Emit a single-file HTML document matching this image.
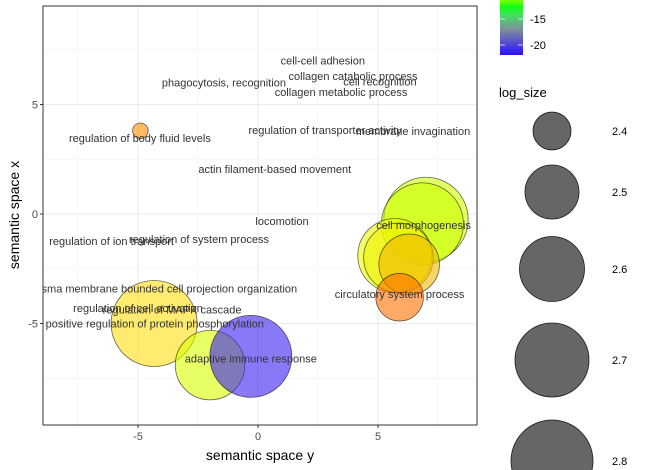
<!DOCTYPE html>
<html><head><meta charset="utf-8"><style>
html,body{margin:0;background:#fff;width:645px;height:470px;overflow:hidden;}
svg{display:block;font-family:"Liberation Sans",sans-serif;}
</style></head><body>
<svg id="chart" width="645" height="470">
<defs><linearGradient id="cb" x1="0" y1="1" x2="0" y2="0">
<stop offset="0" stop-color="#2a10ff"/><stop offset="0.45" stop-color="#7f8f9a"/><stop offset="0.7" stop-color="#40e060"/><stop offset="0.85" stop-color="#10ff10"/><stop offset="1" stop-color="#a0ff00"/></linearGradient></defs>
<g id="grid"></g><g id="marks"></g><g id="labels"></g><g id="axes"></g><g id="legend"></g>
</svg>
<script>
const termNames=["regulation of body fluid levels","positive regulation of protein phosphorylation","adaptive immune response (yellow)","adaptive immune response","cell morphogenesis outer","cell morphogenesis","regulation of system process","regulation of ion transport","regulation","circulatory system process"];
const termX=[-4.9,-4.33,-2.0,-0.3,7.0,6.85,5.7,5.85,6.3,5.9];
const termY=[3.8,-5.0,-6.9,-6.5,-0.25,-0.45,-1.9,-2.0,-2.3,-3.8];
const termSize=[2.26,2.85,2.65,2.8,2.83,2.8,2.7,2.65,2.56,2.46];
const termColor=["#ff8c00","#ffdd10","#d8ff00","#3a20f0","#d0ff00","#ccff00","#e8ff00","#f0f000","#f0b800","#ff7000"];
const labelText=["cell-cell adhesion","collagen catabolic process","cell recognition","phagocytosis, recognition","collagen metabolic process","regulation of transporter activity","membrane invagination","regulation of body fluid levels","actin filament-based movement","locomotion","cell morphogenesis","regulation of ion transport","regulation of system process","plasma membrane bounded cell projection organization","regulation of cell activation","regulation of MAPK cascade","positive regulation of protein phosphorylation","adaptive immune response","circulatory system process"];
const labelX=[2.7,3.96,5.08,-1.42,3.46,2.8,6.46,-4.92,0.7,1.0,6.9,-6.1,-2.46,-4.0,-5.0,-3.58,-4.3,-0.3,5.9];
const labelY=[7.0,6.3,6.06,6.0,5.57,3.84,3.8,3.47,2.05,-0.32,-0.5,-1.23,-1.14,-3.4,-4.3,-4.35,-5.0,-6.6,-3.66];
const xTicks=[-5,0,5], yTicks=[-5,0,5];
const xMinor=[-7.5,-2.5,2.5,7.5], yMinor=[-7.5,-2.5,2.5,7.5];
const sizeLegend=[2.4,2.5,2.6,2.7,2.8];
const cbTicks=[-15,-20];

const L=43,R=477,T=6,B=425;
const sx=v=>258+v*24, sy=v=>214-v*21.9;
function rr(s){const a=[19,27,32.5,37,41];const i=(s-2.4)/0.1;const f=Math.floor(Math.max(0,Math.min(3,i)));return a[f]+(a[f+1]-a[f])*(i-f);}
const NS="http://www.w3.org/2000/svg";
function mk(p,t,a){const e=document.createElementNS(NS,t);for(const k in a)e.setAttribute(k,a[k]);p.appendChild(e);return e;}
const grid=document.getElementById('grid'),marks=document.getElementById('marks'),labs=document.getElementById('labels'),axes=document.getElementById('axes'),leg=document.getElementById('legend');
mk(grid,'rect',{x:L,y:T,width:R-L,height:B-T,fill:'#fff'});
xMinor.forEach(v=>{const l=mk(grid,'line',{x1:sx(v),x2:sx(v),y1:T,y2:B,stroke:'#f2f2f2','stroke-width':0.6});

});
yMinor.forEach(v=>{const l=mk(grid,'line',{y1:sy(v),y2:sy(v),x1:L,x2:R,stroke:'#f2f2f2','stroke-width':0.6});

});
xTicks.forEach(v=>{const l=mk(grid,'line',{x1:sx(v),x2:sx(v),y1:T,y2:B,stroke:'#ebebeb','stroke-width':1.1});


const t=mk(axes,'line',{x1:sx(v),x2:sx(v),y1:B,y2:B+3,stroke:'#333'});


const tx=mk(axes,'text',{x:sx(v),y:B+15,'text-anchor':'middle','font-size':11,fill:'#4d4d4d'});tx.textContent=v;

});
yTicks.forEach(v=>{const l=mk(grid,'line',{y1:sy(v),y2:sy(v),x1:L,x2:R,stroke:'#ebebeb','stroke-width':1.1});


const t=mk(axes,'line',{x1:L-3,x2:L,y1:sy(v),y2:sy(v),stroke:'#333'});


const tx=mk(axes,'text',{x:L-5,y:sy(v)+4,'text-anchor':'end','font-size':11,fill:'#4d4d4d'});tx.textContent=v;

});
function br(s){if(s<2.4)return 19-(2.4-s)*80; if(s>2.8)return 41+(s-2.8)*40; return rr(s);}
termX.forEach((v,i)=>{const c=mk(marks,'circle',{cx:sx(v),cy:sy(termY[i]),r:br(termSize[i]),fill:termColor[i],'fill-opacity':0.6,stroke:'#000','stroke-opacity':0.6,'stroke-width':0.8});

});
const clip=mk(labs,'clipPath',{id:'pc'});mk(clip,'rect',{x:L,y:T,width:R-L,height:B-T});
labs.setAttribute('clip-path','url(#pc)');
labelText.forEach((s,i)=>{const t=mk(labs,'text',{x:sx(labelX[i]),y:sy(labelY[i])+4,'text-anchor':'middle','font-size':11,fill:'#333'});t.textContent=s;

});
const fr=mk(axes,'rect',{x:L,y:T,width:R-L,height:B-T,fill:'none',stroke:'#333','stroke-width':1});


const xt=mk(axes,'text',{x:260,y:460,'text-anchor':'middle','font-size':14,fill:'#000'});xt.textContent='semantic space y';


const yt=mk(axes,'text',{x:0,y:0,'text-anchor':'middle','font-size':14,fill:'#000',transform:'translate(19,215) rotate(-90)'});yt.textContent='semantic space x';


const cbY=v=>19+(v+15)*(-26/5);
const cb=mk(leg,'rect',{x:500,y:-2,width:23,height:57,fill:'url(#cb)'});


cbTicks.forEach(v=>{mk(leg,'line',{x1:500,x2:505,y1:cbY(v),y2:cbY(v),stroke:'#fff','stroke-opacity':0.7});mk(leg,'line',{x1:518,x2:523,y1:cbY(v),y2:cbY(v),stroke:'#fff','stroke-opacity':0.7});
const t=mk(leg,'text',{x:530,y:cbY(v)+4,'font-size':11,fill:'#000'});t.textContent=v;

});
const lt=mk(leg,'text',{x:499,y:97,'font-size':13,fill:'#000'});lt.textContent='log_size';


const ys=[131,192,269,360,461];
sizeLegend.forEach((s,i)=>{const c=mk(leg,'circle',{cx:552,cy:ys[i],r:rr(s),fill:'#666',stroke:'#1a1a1a','stroke-width':0.8});


const t=mk(leg,'text',{x:612,y:ys[i]+4,'font-size':11,fill:'#000'});t.textContent=s.toFixed(1);

});
</script>
</body></html>
